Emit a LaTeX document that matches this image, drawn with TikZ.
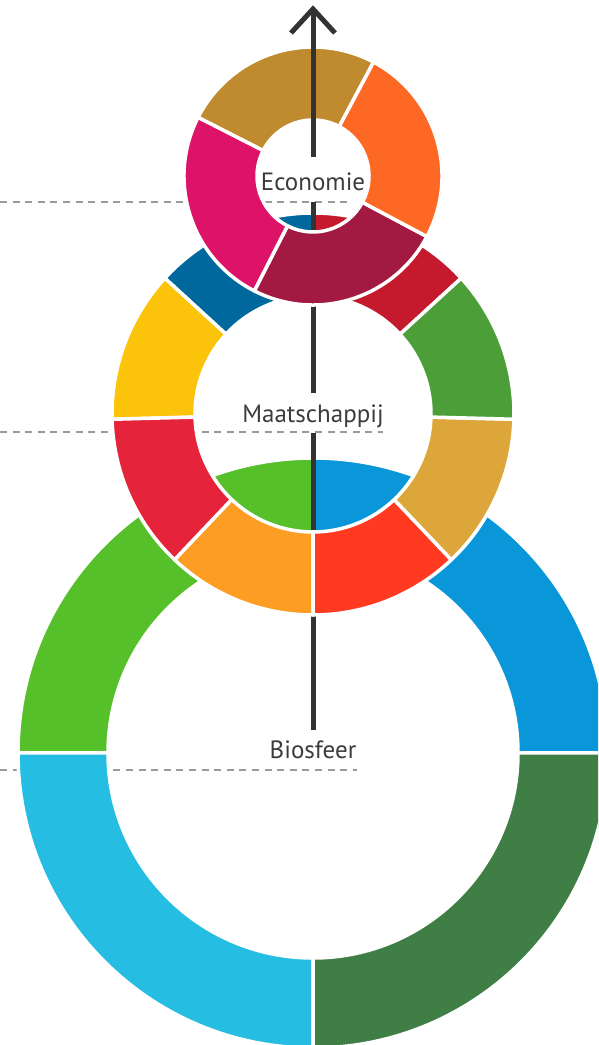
\documentclass[tikz,border=0pt]{standalone}
\usepackage{fontspec}
\setmainfont{PT Sans}
\usetikzlibrary{calc}
\definecolor{sdgone}{HTML}{E5243B}
\definecolor{sdgtwo}{HTML}{DDA63A}
\definecolor{sdgthree}{HTML}{4C9F38}
\definecolor{sdgfour}{HTML}{C5192D}
\definecolor{sdgfive}{HTML}{FF3A21}
\definecolor{sdgsix}{HTML}{26BDE2}
\definecolor{sdgseven}{HTML}{FCC30B}
\definecolor{sdgeight}{HTML}{A21942}
\definecolor{sdgnine}{HTML}{FD6925}
\definecolor{sdgten}{HTML}{DD1367}
\definecolor{sdgeleven}{HTML}{FD9D24}
\definecolor{sdgtwelve}{HTML}{BF8B2E}
\definecolor{sdgthirteen}{HTML}{3F7E44}
\definecolor{sdgfourteen}{HTML}{0A97D9}
\definecolor{sdgfifteen}{HTML}{56C02B}
\definecolor{sdgsixteen}{HTML}{00689D}
\definecolor{axisgray}{HTML}{333333}
\definecolor{guidegray}{HTML}{9A9A9A}
\definecolor{labelgray}{HTML}{3C3C3C}
\newcommand{\annsec}[6]{\path[seg, fill=#1] ([shift={(#3:#6pt)}]#2) arc[start angle=#3, end angle=#4, radius=#6pt] -- ([shift={(#4:#5pt)}]#2) arc[start angle=#4, end angle=#3, radius=#5pt] -- cycle;}
\begin{document}
\begin{tikzpicture}[x=1pt,y=1pt,
  seg/.style={draw=white, line width=3.5pt, line join=round},
  axisline/.style={draw=axisgray, line width=5pt},
  guide/.style={draw=guidegray, line width=2pt, dash pattern=on 7pt off 5.6pt},
  lbl/.style={font=\fontsize{25}{30}\selectfont, text=labelgray, inner sep=0pt}]
\useasboundingbox (0,0) rectangle (598,1045);
\clip (0,0) rectangle (598,1045);
\fill[white] (0,0) rectangle (598,1045);

\coordinate (cb) at (313,292);
\coordinate (cm) at (313,631);
\coordinate (ce) at (313,869);

% guide lines
\coordinate (g1s) at (0,843); \coordinate (g1e) at (350,843);
\coordinate (g2s) at (0,613); \coordinate (g2e) at (383,613);
\coordinate (g3s) at (0,275); \coordinate (g3e) at (357,275);
\draw[guide] (g1s) -- (g1e);
\draw[guide] (g2s) -- (g2e);
\draw[guide] (g3s) -- (g3e);

% biosphere ring
\annsec{sdgfourteen}{cb}{0}{90}{205}{295}
\annsec{sdgfifteen}{cb}{90}{180}{205}{295}
\annsec{sdgsix}{cb}{180}{270}{205}{295}
\annsec{sdgthirteen}{cb}{270}{360}{205}{295}

% labels
\node[lbl, anchor=base] (bio) at (313,286) {Biosfeer};
\node[lbl, anchor=base] (maat) at (313,622) {Maatschappij};
\node[lbl, anchor=base] (econ) at (313,854) {Economie};

% axis, lower part
\coordinate (a1s) at (313,315);
\coordinate (a1e) at (313,612);
\draw[axisline] (a1s) -- (a1e);

% society ring
\annsec{sdgfour}{cm}{42.5}{90}{118}{201}
\annsec{sdgsixteen}{cm}{90}{137.5}{118}{201}
\annsec{sdgseven}{cm}{137.5}{181.5}{118}{201}
\annsec{sdgone}{cm}{181.5}{226.5}{118}{201}
\annsec{sdgeleven}{cm}{226.5}{270}{118}{201}
\annsec{sdgfive}{cm}{270}{313.5}{118}{201}
\annsec{sdgtwo}{cm}{313.5}{358.5}{118}{201}
\annsec{sdgthree}{cm}{-1.5}{42.5}{118}{201}

% axis, middle part
\coordinate (a2s) at (313,652);
\coordinate (a2e) at (313,843);
\draw[axisline] (a2s) -- (a2e);

% economy ring
\annsec{sdgtwelve}{ce}{62}{153}{56}{129}
\annsec{sdgten}{ce}{153}{243}{56}{129}
\annsec{sdgeight}{ce}{243}{332}{56}{129}
\annsec{sdgnine}{ce}{-28}{62}{56}{129}

% axis, top part with open arrow head
\coordinate (a3s) at (313,888);
\coordinate (tip) at (313,1036);
\coordinate (hl) at (291,1012);
\coordinate (hr) at (335,1012);
\draw[axisline] (a3s) -- (tip);
\draw[axisline, line join=miter] (hl) -- (tip) -- (hr);
\end{tikzpicture}
\end{document}
